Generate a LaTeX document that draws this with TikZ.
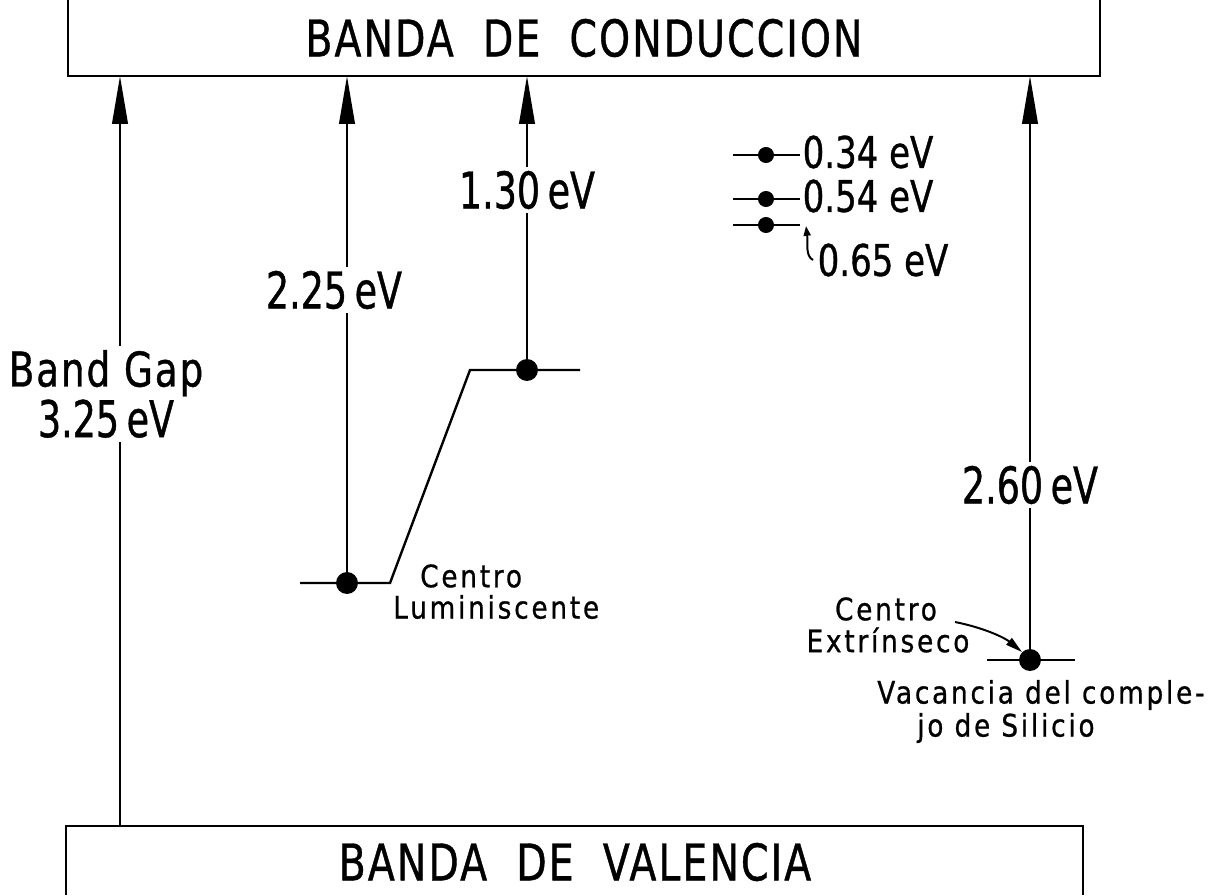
\documentclass[tikz,border=0pt]{standalone}
\usepackage{fontspec}
\setmainfont{DejaVu Sans}[FakeStretch=0.78,FakeBold=0.8]
\newfontfamily\bandfont{DejaVu Sans}[FakeStretch=0.78,FakeBold=0.8,LetterSpace=4]
\newfontfamily\numfont{DejaVu Sans}[FakeStretch=0.72,FakeBold=0.8]
\newfontfamily\smallfont{DejaVu Sans}[FakeStretch=0.85,FakeBold=0.8,LetterSpace=9]
\usetikzlibrary{arrows.meta}
\begin{document}
\begin{tikzpicture}[x=0.025cm,y=-0.025cm,
  band/.style={line width=1.6pt},
  level/.style={line width=1.7pt},
  tr/.style={line width=1.7pt,-{Triangle[length=34pt,width=11pt]}},
  big/.style={font=\bandfont\fontsize{36}{40}\selectfont, inner sep=2pt},
  lab/.style={font=\numfont\fontsize{36}{40}\selectfont, fill=white, inner sep=3pt},
  mid/.style={font=\fontsize{31}{34}\selectfont, inner sep=1pt},
  small/.style={font=\smallfont\fontsize{22}{26}\selectfont, inner sep=0pt},
  dot/.style={circle,fill,inner sep=0pt,minimum size=15.6pt},
  sdot/.style={circle,fill,inner sep=0pt,minimum size=11.4pt},
  pointer/.style={line width=1.4pt},
]
\useasboundingbox (0,0) rectangle (1223,895);
% conduction band
\draw[band] (68,0) -- (68,76) -- (1100,76) -- (1100,0);
\coordinate (cbb) at (584,76);
\node[big] (cb) at (584,38) {BANDA\ \ DE\ \ CONDUCCION};
% valence band
\draw[band] (66,895) -- (66,826) -- (1083,826) -- (1083,895);
\coordinate (vbt) at (575,826);
\node[big] (vb) at (575,862) {BANDA\ \ DE\ \ VALENCIA};
% band gap arrow
\coordinate (bg0) at (120,826);
\draw[tr] (bg0) -- (bg0 |- cbb);
% luminescent centre
\coordinate (l0) at (300,583);
\coordinate (l1) at (390,583);
\coordinate (l2) at (470,370);
\coordinate (l3) at (580,370);
\draw[level] (l0) -- (l1) -- (l2) -- (l3);
\node[dot] (d1) at (347,583) {};
\node[dot] (d2) at (527,370) {};
\draw[tr] (d1.center) -- (d1 |- cbb);
\draw[tr] (d2.center) -- (d2 |- cbb);
\node[small, anchor=west] (cl1) at (420,576) {Centro};
\node[small, anchor=west] (cl2) at (393,607) {Luminiscente};
% extrinsic centre
\coordinate (e0) at (987,660);
\coordinate (e1) at (1075,660);
\draw[level] (e0) -- (e1);
\node[dot] (d3) at (1030,660) {};
\draw[tr] (d3.center) -- (d3 |- cbb);
\node[small] (ce1) at (886,609) {Centro};
\node[small] (ce2) at (888,640) {Extrínseco};
\coordinate (ea) at (955,622);
\draw[pointer, -{Triangle[length=12pt,width=6pt]}] (ea) .. controls (985,628) and (1005,638) .. (d3.north west);
\node[small, anchor=west] (va1) at (877,695) {Vacancia del comple-};
\node[small, anchor=west] (va2) at (917,728) {jo de Silicio};
% shallow levels
\coordinate (s1a) at (733,155); \coordinate (s1b) at (800,155);
\coordinate (s2a) at (733,199); \coordinate (s2b) at (800,199);
\coordinate (s3a) at (733,225); \coordinate (s3b) at (800,225);
\draw[level] (s1a) -- (s1b);
\draw[level] (s2a) -- (s2b);
\draw[level] (s3a) -- (s3b);
\node[sdot] (sd1) at (766,155) {};
\node[sdot] (sd2) at (766,199) {};
\node[sdot] (sd3) at (766,225) {};
\node[mid, anchor=west] (t1) at (801,152) {0.34 eV};
\node[mid, anchor=west] (t2) at (801,196) {0.54 eV};
\node[mid, anchor=west] (t3) at (816,260) {0.65 eV};
\coordinate (hk) at (813,260);
\coordinate (hkt) at (806,226);
\draw[pointer, -{Triangle[length=7pt,width=5pt]}] (hk) .. controls (805,256) and (808,242) .. (hkt);
% energy labels
\node[lab] (e225) at (334,290) {2.25\hspace{0.15em}eV};
\node[lab] (e130) at (527,190) {1.30\hspace{0.15em}eV};
\node[lab] (e260) at (1030,485) {2.60\hspace{0.15em}eV};
\node[lab, align=center] (bgl) at (106,394) {{\bandfont\fontsize{34}{25}\selectfont Band Gap}\\[-4pt]3.25\hspace{0.15em}eV};
\end{tikzpicture}
\end{document}
